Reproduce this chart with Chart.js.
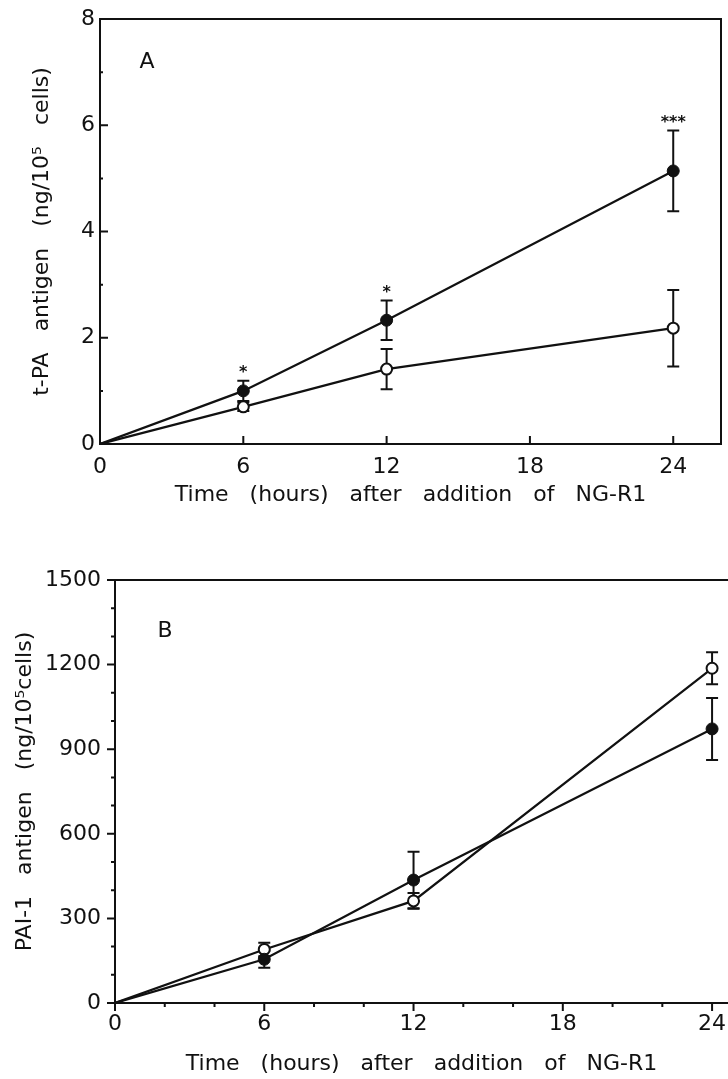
<!DOCTYPE html>
<html>
<head>
<meta charset="utf-8">
<script src="https://cdn.jsdelivr.net/npm/chart.js@4.4.1/dist/chart.umd.min.js"></script>
<style>
  body { margin: 0; background: #fff; overflow: hidden; }
  .panel { position: absolute; left: 0; }
  #panelA { top: 0; }
  #panelB { top: 540px; }
</style>
</head>
<body>
<div class="panel" id="panelA"><canvas id="chartA" width="728" height="530"></canvas></div>
<div class="panel" id="panelB"><canvas id="chartB" width="728" height="539"></canvas></div>
<script>
/* Panel A data : t-PA antigen */
const hoursA = [0, 6, 12, 24];
const tpaTreated = [0, 1.0, 2.33, 5.14];
const tpaTreatedErr = [0, 0.19, 0.37, 0.76];
const tpaControl = [0, 0.7, 1.41, 2.18];
const tpaControlErr = [0, 0.08, 0.38, 0.72];
const tpaStars = ["", "*", "*", "***"];
const xTicksA = [0, 6, 12, 18, 24];
const yTicksA = [0, 2, 4, 6, 8];
const yMinorA = [1, 3, 5, 7];

/* Panel B data : PAI-1 antigen */
const hoursB = [0, 6, 12, 24];
const paiTreated = [0, 155, 436, 972];
const paiTreatedErr = [0, 30, 100, 110];
const paiControl = [0, 190, 362, 1187];
const paiControlErr = [0, 24, 28, 57];
const xTicksB = [0, 6, 12, 18, 24];
const xMinorB = [2, 4, 8, 10, 14, 16, 20, 22];
const yTicksB = [0, 300, 600, 900, 1200, 1500];
const yMinorB = [100, 200, 400, 500, 700, 800, 1000, 1100, 1300, 1400];

const ink = "#111";
const family = "'DejaVu Sans', sans-serif";
Chart.defaults.font.family = family;
Chart.defaults.color = ink;

function points(xs, ys) {
  return xs.map((x, i) => ({ x: x, y: ys[i] }));
}

/* Plugins : */

const errorBars = {
  id: "errorBars",
  beforeDatasetsDraw(chart) {
    const ctx = chart.ctx;
    const yScale = chart.scales.y;
    ctx.save();
    ctx.strokeStyle = ink;
    ctx.lineWidth = 2;
    chart.data.datasets.forEach((ds, i) => {
      if (!ds.errors) return;
      chart.getDatasetMeta(i).data.forEach((pt, j) => {
        const err = ds.errors[j];
        if (!err) return;
        const top = yScale.getPixelForValue(ds.data[j].y + err);
        const bot = yScale.getPixelForValue(ds.data[j].y - err);
        ctx.beginPath();
        ctx.moveTo(pt.x, top);
        ctx.lineTo(pt.x, bot);
        ctx.moveTo(pt.x - 6, top);
        ctx.lineTo(pt.x + 6, top);
        ctx.moveTo(pt.x - 6, bot);
        ctx.lineTo(pt.x + 6, bot);
        ctx.stroke();
      });
    });
    ctx.restore();
  },
  afterDatasetsDraw(chart) {
    // significance stars above the error bars
    const ctx = chart.ctx;
    const yScale = chart.scales.y;
    ctx.save();
    ctx.fillStyle = ink;
    ctx.font = "bold 16px " + family;
    ctx.textAlign = "center";
    ctx.textBaseline = "alphabetic";
    chart.data.datasets.forEach((ds, i) => {
      if (!ds.stars) return;
      chart.getDatasetMeta(i).data.forEach((pt, j) => {
        if (!ds.stars[j]) return;
        const top = yScale.getPixelForValue(ds.data[j].y + ds.errors[j]);
        ctx.fillText(ds.stars[j], pt.x, top - 4);
      });
    });
    ctx.restore();
  },
};

const axisMarks = {
  id: "axisMarks",
  afterDraw(chart, args, opts) {
    const { ctx, chartArea: area, scales } = chart;
    const dir = opts.inward ? -1 : 1;
    ctx.save();
    ctx.strokeStyle = ink;
    ctx.lineWidth = 2;
    ctx.beginPath();
    const xMark = (v, len) => {
      const px = scales.x.getPixelForValue(v);
      ctx.moveTo(px, area.bottom);
      ctx.lineTo(px, area.bottom + dir * len);
    };
    const yMark = (v, len) => {
      const py = scales.y.getPixelForValue(v);
      ctx.moveTo(area.left, py);
      ctx.lineTo(area.left - dir * len, py);
    };
    scales.x.ticks.forEach((t) => xMark(t.value, opts.major));
    (opts.xMinor || []).forEach((v) => xMark(v, opts.minor));
    scales.y.ticks.forEach((t) => yMark(t.value, opts.major));
    (opts.yMinor || []).forEach((v) => yMark(v, opts.minor));

    // frame
    ctx.moveTo(area.left, area.top);
    if (opts.fullBox) {
      ctx.lineTo(area.right, area.top);
      ctx.lineTo(area.right, area.bottom);
    } else {
      ctx.lineTo(chart.width, area.top);
    }
    ctx.stroke();

    // panel letter
    ctx.fillStyle = ink;
    ctx.font = "22px " + family;
    ctx.textAlign = "center";
    ctx.textBaseline = "middle";
    ctx.fillText(opts.letter, area.left + opts.letterDx, area.top + opts.letterDy);
    ctx.restore();
  },
};

function makeConfig(p) {
  return {
    type: "line",
    data: {
      datasets: [
        {
          label: "NG-R1",
          data: points(p.hours, p.treated),
          errors: p.treatedErr,
          stars: p.stars,
          borderColor: ink,
          borderWidth: 2.2,
          pointRadius: [0, 6, 6, 6],
          pointBackgroundColor: ink,
          pointBorderColor: ink,
          pointBorderWidth: 1,
          tension: 0,
        },
        {
          label: "Control",
          data: points(p.hours, p.control),
          errors: p.controlErr,
          borderColor: ink,
          borderWidth: 2.2,
          pointRadius: [0, 5.5, 5.5, 5.5],
          pointBackgroundColor: "#fff",
          pointBorderColor: ink,
          pointBorderWidth: 2,
          tension: 0,
        },
      ],
    },
    options: {
      responsive: false,
      animation: false,
      events: [],
      layout: { padding: p.padding, autoPadding: false },
      plugins: {
        legend: { display: false },
        tooltip: { enabled: false },
        axisMarks: p.marks,
      },
      scales: {
        x: {
          type: "linear",
          min: 0,
          max: p.xMax,
          afterBuildTicks: (s) => {
            s.ticks = p.xTicks.map((v) => ({ value: v }));
          },
          afterFit: (s) => {
            s.height = p.xHeight;
            s.paddingLeft = 0;
            s.paddingRight = 0;
          },
          grid: { display: false, drawTicks: false },
          border: { color: ink, width: 2 },
          ticks: {
            color: ink,
            font: { size: 22 },
            padding: p.xPad,
            autoSkip: false,
            maxRotation: 0,
            callback: (value) => String(value),
          },
          title: {
            display: true,
            text: "Time   (hours)   after   addition   of   NG-R1",
            color: ink,
            font: { size: 22 },
            padding: { top: 0, bottom: p.xTitlePad },
          },
        },
        y: {
          type: "linear",
          min: 0,
          max: p.yMax,
          afterBuildTicks: (s) => {
            s.ticks = p.yTicks.map((v) => ({ value: v }));
          },
          afterFit: (s) => {
            s.width = p.yWidth;
          },
          grid: { display: false, drawTicks: false },
          border: { color: ink, width: 2 },
          ticks: {
            color: ink,
            font: { size: 22 },
            padding: p.yPad,
            autoSkip: false,
            callback: (value) => String(value),
          },
          title: {
            display: true,
            text: p.yTitle,
            color: ink,
            font: { size: 22 },
            padding: { top: p.yTitlePad, bottom: 0 },
          },
        },
      },
    },
    plugins: [errorBars, axisMarks],
  };
}

/* Chart A : */

const chartA = new Chart(
  document.getElementById("chartA").getContext("2d"),
  makeConfig({
    hours: hoursA,
    treated: tpaTreated,
    treatedErr: tpaTreatedErr,
    control: tpaControl,
    controlErr: tpaControlErr,
    stars: tpaStars,
    xTicks: xTicksA,
    yTicks: yTicksA,
    xMax: 26,
    yMax: 8,
    padding: { top: 19, right: 7, left: 0, bottom: 0 },
    xHeight: 86,
    yWidth: 100,
    xPad: 10,
    yPad: 5,
    xTitlePad: 22,
    yTitlePad: 29,
    yTitle: "t-PA   antigen   (ng/10\u2075   cells)",
    marks: { inward: true, major: 8, minor: 3, yMinor: yMinorA, fullBox: true, letter: "A", letterDx: 47, letterDy: 43 },
  })
);

/* Chart B : */

const chartB = new Chart(
  document.getElementById("chartB").getContext("2d"),
  makeConfig({
    hours: hoursB,
    treated: paiTreated,
    treatedErr: paiTreatedErr,
    control: paiControl,
    controlErr: paiControlErr,
    stars: null,
    xTicks: xTicksB,
    yTicks: yTicksB,
    xMax: 24.64,
    yMax: 1500,
    padding: { top: 40, right: 0, left: 0, bottom: 0 },
    xHeight: 76,
    yWidth: 115,
    xPad: 8,
    yPad: 14,
    xTitlePad: 2,
    yTitlePad: 12,
    yTitle: "PAI-1   antigen   (ng/10\u2075cells)",
    marks: { inward: false, major: 8, minor: 4, xMinor: xMinorB, yMinor: yMinorB, fullBox: false, letter: "B", letterDx: 50, letterDy: 51 },
  })
);
</script>
</body>
</html>
